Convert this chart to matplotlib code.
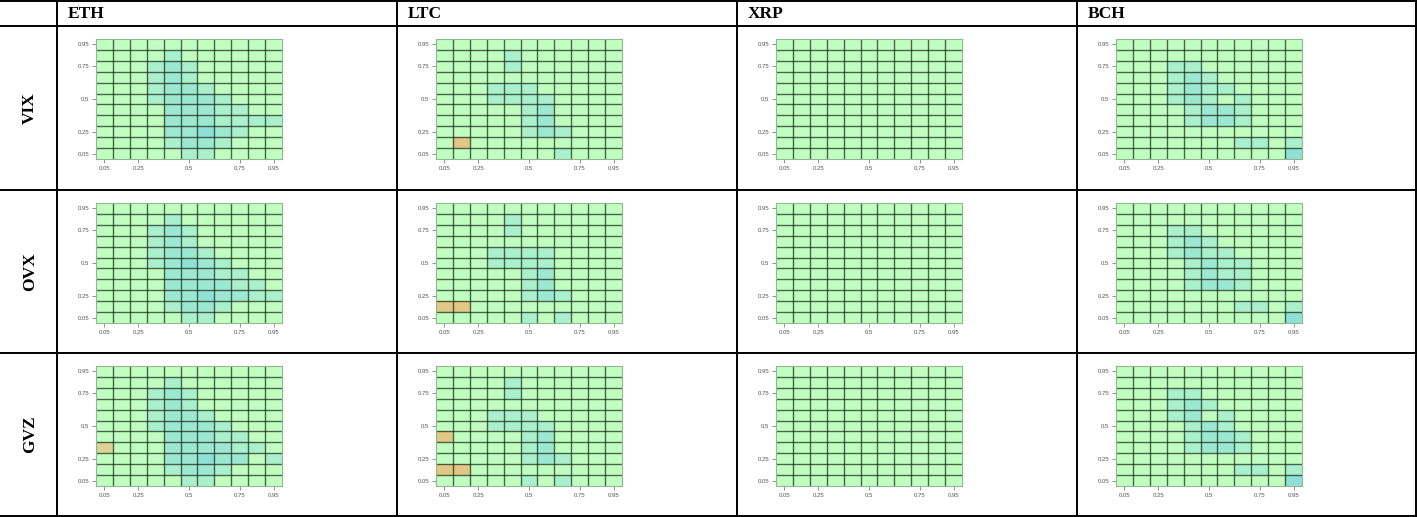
import matplotlib
matplotlib.use("Agg")
import matplotlib.pyplot as plt
import numpy as np
from matplotlib.colors import ListedColormap, BoundaryNorm

# ---------------- data ----------------
cryptos = ["ETH", "LTC", "XRP", "BCH"]
indices = ["VIX", "OVX", "GVZ"]
tick_pos = [0, 2, 5, 8, 10]
tick_labels = ["0.05", "0.25", "0.5", "0.75", "0.95"]

# levels: 0 = neutral (green), 1..3 = positive (teal, darker = stronger), -1/-2 = negative (orange)
# rows listed from top quantile (0.95) down to bottom quantile (0.05)
Z = [0] * 11

eth_vix = [
    Z,
    [0, 0, 0, 0, 1, 0, 0, 0, 0, 0, 0],
    [0, 0, 0, 1, 2, 1, 0, 0, 0, 0, 0],
    [0, 0, 0, 1, 2, 1, 0, 0, 0, 0, 0],
    [0, 0, 0, 1, 2, 2, 1, 0, 0, 0, 0],
    [0, 0, 0, 1, 2, 2, 2, 1, 0, 0, 0],
    [0, 0, 0, 0, 2, 2, 2, 1, 1, 0, 0],
    [0, 0, 0, 0, 2, 2, 2, 1, 1, 1, 1],
    [0, 0, 0, 0, 2, 2, 3, 2, 1, 0, 0],
    [0, 0, 0, 0, 1, 2, 2, 1, 0, 0, 0],
    [0, 0, 0, 0, 0, 1, 1, 0, 0, 0, 0],
]
eth_ovx = [
    Z,
    [0, 0, 0, 0, 1, 0, 0, 0, 0, 0, 0],
    [0, 0, 0, 1, 2, 1, 0, 0, 0, 0, 0],
    [0, 0, 0, 1, 2, 1, 0, 0, 0, 0, 0],
    [0, 0, 0, 1, 2, 2, 1, 0, 0, 0, 0],
    [0, 0, 0, 1, 2, 3, 2, 1, 0, 0, 0],
    [0, 0, 0, 0, 2, 2, 2, 1, 1, 0, 0],
    [0, 0, 0, 0, 2, 2, 2, 2, 1, 1, 0],
    [0, 0, 0, 0, 2, 2, 3, 2, 2, 1, 1],
    [0, 0, 0, 0, 1, 2, 2, 1, 0, 0, 0],
    [0, 0, 0, 0, 0, 1, 1, 0, 0, 0, 0],
]
eth_gvz = [
    Z,
    [0, 0, 0, 0, 1, 0, 0, 0, 0, 0, 0],
    [0, 0, 0, 1, 2, 1, 0, 0, 0, 0, 0],
    [0, 0, 0, 1, 2, 1, 0, 0, 0, 0, 0],
    [0, 0, 0, 1, 2, 2, 1, 0, 0, 0, 0],
    [0, 0, 0, 1, 2, 2, 2, 1, 0, 0, 0],
    [0, 0, 0, 0, 2, 2, 2, 1, 1, 0, 0],
    [-1, 0, 0, 0, 2, 2, 2, 2, 1, 1, 0],
    [0, 0, 0, 0, 2, 2, 3, 2, 2, 0, 1],
    [0, 0, 0, 0, 1, 2, 2, 1, 0, 0, 0],
    [0, 0, 0, 0, 0, 1, 1, 0, 0, 0, 0],
]
ltc_vix = [
    Z,
    [0, 0, 0, 0, 1, 0, 0, 0, 0, 0, 0],
    [0, 0, 0, 0, 1, 0, 0, 0, 0, 0, 0],
    Z,
    [0, 0, 0, 1, 1, 1, 0, 0, 0, 0, 0],
    [0, 0, 0, 1, 1, 1, 1, 0, 0, 0, 0],
    [0, 0, 0, 0, 0, 1, 2, 0, 0, 0, 0],
    [0, 0, 0, 0, 0, 1, 2, 0, 0, 0, 0],
    [0, 0, 0, 0, 0, 1, 2, 1, 0, 0, 0],
    [0, -2, 0, 0, 0, 0, 0, 0, 0, 0, 0],
    [0, 0, 0, 0, 0, 0, 0, 1, 0, 0, 0],
]
ltc_ovx = [
    Z,
    [0, 0, 0, 0, 1, 0, 0, 0, 0, 0, 0],
    [0, 0, 0, 0, 1, 0, 0, 0, 0, 0, 0],
    Z,
    [0, 0, 0, 1, 1, 1, 1, 0, 0, 0, 0],
    [0, 0, 0, 1, 1, 1, 1, 0, 0, 0, 0],
    [0, 0, 0, 0, 0, 1, 2, 0, 0, 0, 0],
    [0, 0, 0, 0, 0, 1, 2, 0, 0, 0, 0],
    [0, 0, 0, 0, 0, 1, 2, 1, 0, 0, 0],
    [-2, -2, 0, 0, 0, 0, 0, 0, 0, 0, 0],
    [0, 0, 0, 0, 0, 1, 0, 1, 0, 0, 0],
]
ltc_gvz = [
    Z,
    [0, 0, 0, 0, 1, 0, 0, 0, 0, 0, 0],
    [0, 0, 0, 0, 1, 0, 0, 0, 0, 0, 0],
    Z,
    [0, 0, 0, 1, 1, 1, 0, 0, 0, 0, 0],
    [0, 0, 0, 1, 1, 1, 1, 0, 0, 0, 0],
    [-2, 0, 0, 0, 0, 1, 2, 0, 0, 0, 0],
    [0, 0, 0, 0, 0, 1, 2, 0, 0, 0, 0],
    [0, 0, 0, 0, 0, 1, 2, 1, 0, 0, 0],
    [-2, -2, 0, 0, 0, 0, 0, 0, 0, 0, 0],
    [0, 0, 0, 0, 0, 1, 0, 1, 0, 0, 0],
]
xrp_vix = [Z] * 11
xrp_ovx = [Z] * 11
xrp_gvz = [Z] * 11
bch_vix = [
    Z,
    Z,
    [0, 0, 0, 1, 1, 0, 0, 0, 0, 0, 0],
    [0, 0, 0, 1, 2, 1, 0, 0, 0, 0, 0],
    [0, 0, 0, 1, 2, 1, 1, 0, 0, 0, 0],
    [0, 0, 0, 1, 2, 1, 0, 1, 0, 0, 0],
    [0, 0, 0, 0, 1, 2, 2, 1, 0, 0, 0],
    [0, 0, 0, 0, 1, 2, 2, 1, 0, 0, 0],
    Z,
    [0, 0, 0, 0, 0, 0, 0, 1, 1, 0, 1],
    [0, 0, 0, 0, 0, 0, 0, 0, 0, 0, 3],
]
bch_ovx = [
    Z,
    Z,
    [0, 0, 0, 1, 1, 0, 0, 0, 0, 0, 0],
    [0, 0, 0, 1, 2, 1, 0, 0, 0, 0, 0],
    [0, 0, 0, 1, 2, 1, 1, 0, 0, 0, 0],
    [0, 0, 0, 0, 1, 2, 1, 1, 0, 0, 0],
    [0, 0, 0, 0, 1, 2, 1, 1, 0, 0, 0],
    [0, 0, 0, 0, 1, 2, 2, 1, 0, 0, 0],
    Z,
    [0, 0, 0, 0, 0, 0, 0, 1, 1, 0, 1],
    [0, 0, 0, 0, 0, 0, 0, 0, 0, 0, 3],
]
bch_gvz = [
    Z,
    Z,
    [0, 0, 0, 1, 1, 0, 0, 0, 0, 0, 0],
    [0, 0, 0, 1, 2, 1, 0, 0, 0, 0, 0],
    [0, 0, 0, 1, 2, 0, 1, 0, 0, 0, 0],
    [0, 0, 0, 0, 1, 2, 1, 0, 0, 0, 0],
    [0, 0, 0, 0, 1, 2, 2, 1, 0, 0, 0],
    [0, 0, 0, 0, 1, 2, 2, 1, 0, 0, 0],
    Z,
    [0, 0, 0, 0, 0, 0, 0, 1, 1, 0, 1],
    [0, 0, 0, 0, 0, 0, 0, 0, 0, 0, 3],
]

panels = {
    ("ETH", "VIX"): eth_vix, ("ETH", "OVX"): eth_ovx, ("ETH", "GVZ"): eth_gvz,
    ("LTC", "VIX"): ltc_vix, ("LTC", "OVX"): ltc_ovx, ("LTC", "GVZ"): ltc_gvz,
    ("XRP", "VIX"): xrp_vix, ("XRP", "OVX"): xrp_ovx, ("XRP", "GVZ"): xrp_gvz,
    ("BCH", "VIX"): bch_vix, ("BCH", "OVX"): bch_ovx, ("BCH", "GVZ"): bch_gvz,
}

# ---------------- style ----------------
level_colors = ["#e2c886", "#dcd496", "#c1ffc1", "#aaf0cc", "#9de8d0", "#8fe1d5"]
cmap = ListedColormap(level_colors)
norm = BoundaryNorm([-2.5, -1.5, -0.5, 0.5, 1.5, 2.5, 3.5], cmap.N)

W, H = 1417, 517
fig = plt.figure(figsize=(W / 100, H / 100), dpi=100)
fig.patch.set_facecolor("white")

def px_axes(x, y, w, h):
    return fig.add_axes([x / W, 1 - (y + h) / H, w / W, h / H])

# table frame
tab = px_axes(0, 0, W, H)
tab.set_xlim(0, W)
tab.set_ylim(H, 0)
tab.axis("off")
col_x = [57, 397, 737, 1077]
row_y = [26, 190, 353]
for yy in [1, 26, 190, 353, 516]:
    tab.plot([0, W], [yy, yy], color="black", lw=1.4, solid_capstyle="butt")
for xx in col_x + [1416]:
    tab.plot([xx, xx], [0, H], color="black", lw=1.4, solid_capstyle="butt")

serif = ["Liberation Serif", "DejaVu Serif"]
for c, name in enumerate(cryptos):
    tab.text(col_x[c] + 11, 14, name, family=serif, fontsize=12.5,
             fontweight="bold", ha="left", va="center")
row_h = [164, 163, 163]
for r, name in enumerate(indices):
    tab.text(30, row_y[r] + row_h[r] / 2, name, family=serif, fontsize=12.5,
             fontweight="bold", rotation=90, ha="center", va="center")

# heatmaps
for c, cname in enumerate(cryptos):
    for r, iname in enumerate(indices):
        mat = np.array(panels[(cname, iname)])[::-1]  # bottom row first
        ax = px_axes(col_x[c] + 39, row_y[r] + 13, 186, 120)
        ax.imshow(mat, origin="lower", cmap=cmap, norm=norm, aspect="auto",
                  interpolation="nearest", extent=(-0.5, 10.5, -0.5, 10.5))
        for k in range(1, 11):
            ax.axhline(k - 0.5, color="#142414", alpha=0.7, lw=1.0)
            ax.axvline(k - 0.5, color="#142414", alpha=0.7, lw=1.0)
        ax.set_xlim(-0.5, 10.5)
        ax.set_ylim(-0.5, 10.5)
        ax.set_xticks(tick_pos)
        ax.set_xticklabels(tick_labels)
        ax.set_yticks(tick_pos)
        ax.set_yticklabels(tick_labels)
        ax.tick_params(length=3, width=0.5, color="#666666", labelsize=4.3,
                       labelcolor="#555555", pad=2)
        for lab in ax.get_xticklabels() + ax.get_yticklabels():
            lab.set_family(["Liberation Sans", "DejaVu Sans"])
        for sp in ax.spines.values():
            sp.set_color("#90b890")
            sp.set_linewidth(0.8)

fig.savefig("out.png", dpi=100, facecolor="white")
